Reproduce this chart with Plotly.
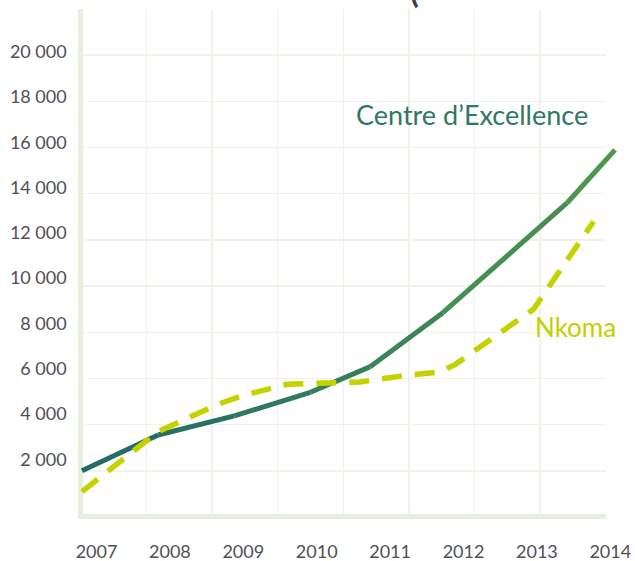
import plotly.graph_objects as go

# ---------------- data ----------------
centre_years = [2007.0, 2008.0, 2009.0, 2010.0, 2010.78, 2011.74, 2013.37, 2014.0]
centre_values = [2000, 3550, 4380, 5400, 6500, 8850, 13600, 15900]

nkoma_years = [2007.0, 2008.0, 2008.8, 2009.1, 2009.7, 2010.0, 2010.65, 2011.3,
               2011.7, 2011.9, 2012.75, 2012.93, 2013.72]
nkoma_values = [1100, 3700, 4900, 5250, 5750, 5800, 5850, 6150,
                6280, 6600, 8600, 9000, 12800]

year_labels = [2007, 2008, 2009, 2010, 2011, 2012, 2013, 2014]
value_ticks = [2000, 4000, 6000, 8000, 10000, 12000, 14000, 16000, 18000, 20000]
grid_values = list(range(0, 22001, 2000))
grid_columns = [1, 2, 3, 4, 5, 6, 7]

series_names = ["Centre d’Excellence", "Nkoma"]

# ---------------- layout geometry (pixels) ----------------
W, H = 635, 561


def fx(p):
    return p / W


def fy(p):
    return 1 - p / H


GRID_L, GRID_R, GRID_T, GRID_B = 83.3, 605.5, 9, 514
DATA_L, DATA_R, DATA_T, DATA_B = 80, 625, 9, 517

gpy = (517 - 9) / 22000.0
grid_y_range = [(517 - GRID_B) / gpy, 22000]
gcol = (605.5 - 81) / 8.0
grid_x_range = [(GRID_L - 81) / gcol, 8]

dpx = (615 - 82) / 7.0
data_x_range = [2007 - (82 - DATA_L) / dpx, 2007 + (DATA_R - 82) / dpx]
data_y_range = [0, 22000]

lpx = 73.4
label_x_range = [2007 - (96.5 - DATA_L) / lpx, 2007 + (DATA_R - 96.5) / lpx]
lpy = (459.3 - 51.7) / 18000.0
label_y_range = [2000 - (GRID_B - 459.3) / lpy, 2000 + (459.3 - GRID_T) / lpy]

GRID_COLOR = "#eef4e8"
AXIS_COLOR = "#e7efdd"
TEXT_COLOR = "#4f4f59"
FONT = "Lato, 'Open Sans', sans-serif"

fig = go.Figure()

# invisible holder traces so every axis/subplot gets drawn
for xa, ya in (("x", "y"), ("x3", "y2"), ("x", "y3")):
    fig.add_trace(go.Scatter(x=[None], y=[None], xaxis=xa, yaxis=ya,
                             showlegend=False, hoverinfo="skip"))

# Centre d'Excellence: gradient teal -> green, drawn segment by segment
c0 = (30, 104, 106)
c1 = (80, 152, 74)
n = len(centre_years)
for i in range(n - 1):
    xm = 0.5 * (centre_years[i] + centre_years[i + 1])
    t = (xm - centre_years[0]) / (centre_years[-1] - centre_years[0])
    col = "rgb(%d,%d,%d)" % tuple(round(a + (b - a) * t) for a, b in zip(c0, c1))
    fig.add_trace(go.Scatter(
        x=centre_years[i:i + 2], y=centre_values[i:i + 2],
        mode="lines", line=dict(color=col, width=5),
        xaxis="x2", yaxis="y2", showlegend=False, hoverinfo="skip",
        name=series_names[0]))

fig.add_trace(go.Scatter(
    x=nkoma_years, y=nkoma_values, mode="lines",
    line=dict(color="#c4d200", width=5.5, dash="20px,13px"),
    xaxis="x2", yaxis="y2", showlegend=False, hoverinfo="skip",
    name=series_names[1]))

fig.update_layout(
    template="none",
    width=W, height=H,
    margin=dict(l=0, r=0, t=0, b=0, autoexpand=False),
    paper_bgcolor="white",
    plot_bgcolor="rgba(0,0,0,0)",
    showlegend=False,
    hovermode=False,
    separators=", ",
    font=dict(family=FONT, size=18, color=TEXT_COLOR),
    xaxis=dict(domain=[fx(GRID_L), fx(GRID_R)], range=grid_x_range,
               anchor="y", tickmode="array", tickvals=grid_columns,
               showgrid=True, gridcolor=GRID_COLOR, gridwidth=1.5,
               showticklabels=False, ticks="", zeroline=False,
               showline=True, linecolor=AXIS_COLOR, linewidth=5,
               automargin=False),
    yaxis=dict(domain=[fy(GRID_B), fy(GRID_T)], range=grid_y_range,
               anchor="x", tickmode="array", tickvals=grid_values,
               showgrid=True, gridcolor=GRID_COLOR, gridwidth=1.5,
               showticklabels=False, ticks="", zeroline=False,
               showline=True, linecolor=AXIS_COLOR, linewidth=5,
               automargin=False),
    xaxis2=dict(domain=[fx(DATA_L), fx(DATA_R)], range=data_x_range,
                anchor="y2", showgrid=False, zeroline=False, showline=False,
                showticklabels=False, ticks="", automargin=False),
    yaxis2=dict(domain=[fy(DATA_B), fy(DATA_T)], range=data_y_range,
                anchor="x2", showgrid=False, zeroline=False, showline=False,
                showticklabels=False, ticks="", automargin=False),
    xaxis3=dict(overlaying="x2", anchor="y2", side="bottom",
                range=label_x_range, tickmode="array", tickvals=year_labels,
                ticktext=[str(v) for v in year_labels],
                showgrid=False, zeroline=False, showline=False,
                ticks="outside", ticklen=18, tickcolor="rgba(0,0,0,0)",
                automargin=False,
                tickfont=dict(family=FONT, size=18, color=TEXT_COLOR)),
    yaxis3=dict(overlaying="y", anchor="x", side="left",
                range=label_y_range, tickmode="array", tickvals=value_ticks,
                tickformat=",d",
                showgrid=False, zeroline=False, showline=False,
                ticks="outside", ticklen=12, tickcolor="rgba(0,0,0,0)",
                automargin=False,
                tickfont=dict(family=FONT, size=18, color=TEXT_COLOR)),
    annotations=[
        dict(text=series_names[0], xref="paper", yref="paper",
             x=fx(472), y=fy(114), xanchor="center", yanchor="middle",
             showarrow=False,
             font=dict(family=FONT, size=27, color="#2f7863")),
        dict(text=series_names[1], xref="paper", yref="paper",
             x=fx(575), y=fy(327), xanchor="center", yanchor="middle",
             showarrow=False,
             font=dict(family=FONT, size=26, color="#c2d000")),
        dict(text="<b>(</b>", xref="paper", yref="paper",
             x=fx(414), y=fy(12), xanchor="center", yanchor="bottom",
             showarrow=False,
             font=dict(family=FONT, size=32, color="#3c3c48")),
    ],
)

fig.write_html(
    "out.html",
    config={"displayModeBar": False, "staticPlot": True},
    post_script="document.body.style.margin='0';document.body.style.overflow='hidden';",
)
